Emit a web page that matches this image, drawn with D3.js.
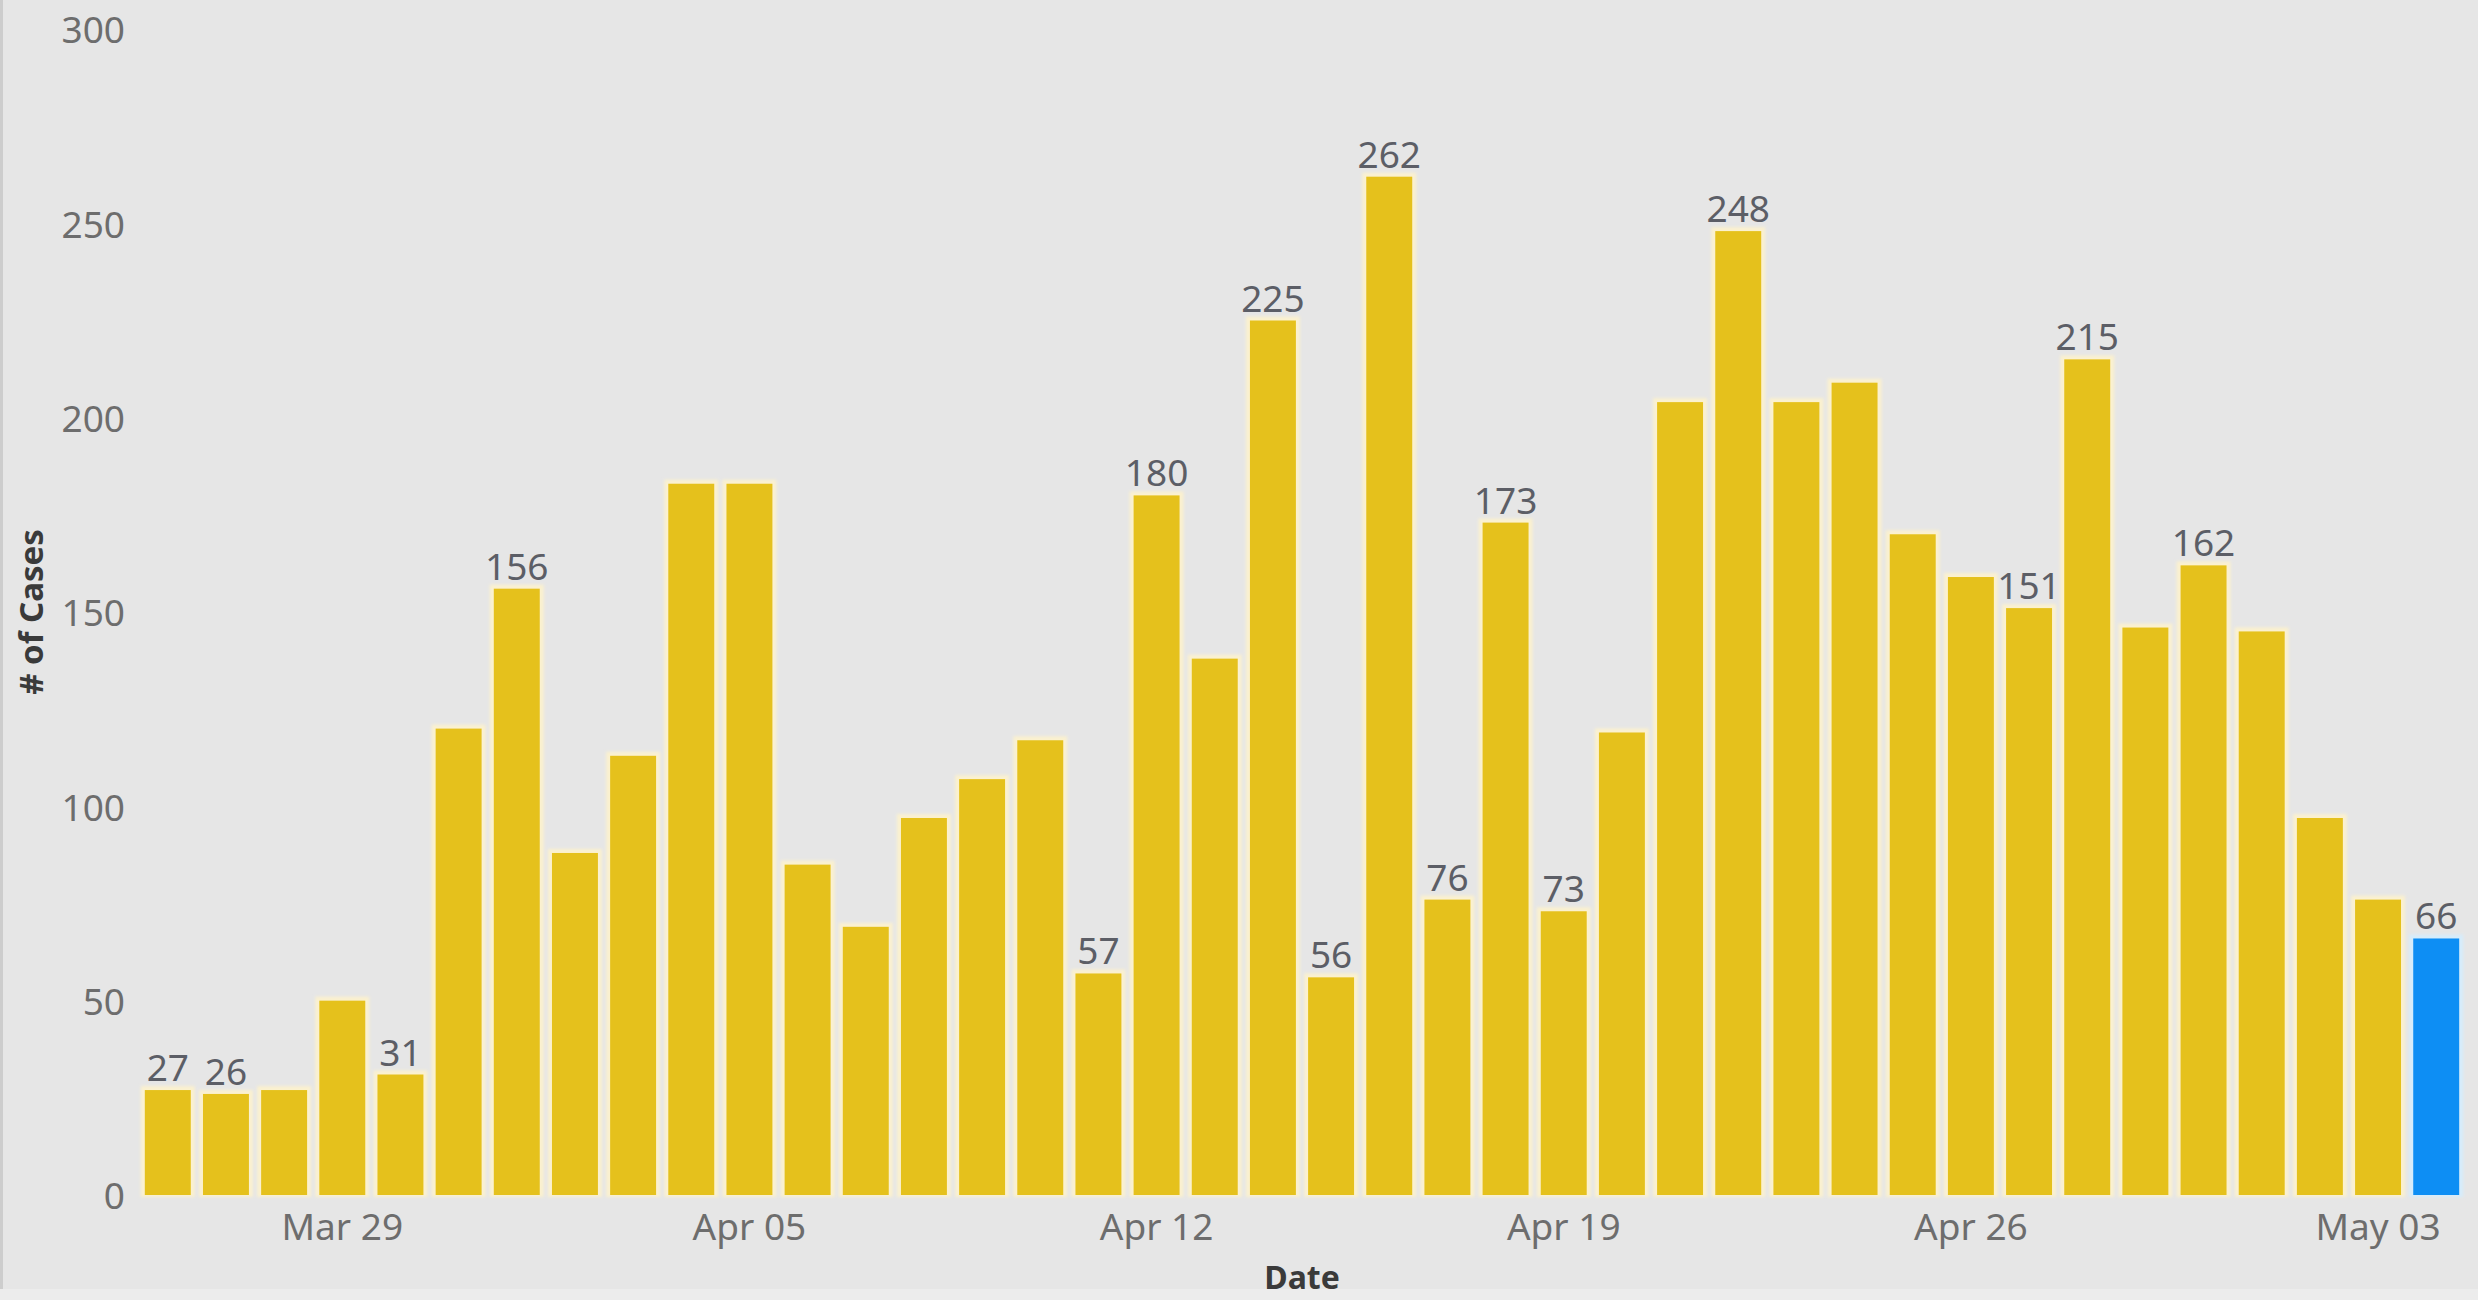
<!DOCTYPE html>
<html>
<head>
<meta charset="utf-8">
<script src="https://cdn.jsdelivr.net/npm/d3@7"></script>
<style>
  html, body { margin: 0; padding: 0; background: #e6e6e6; overflow: hidden; }
  svg { display: block; }
  text { font-family: "Noto Sans", "Open Sans", sans-serif; }
</style>
</head>
<body>
<svg id="chart" width="2478" height="1300"></svg>
<script>
// Daily new cases, Mar 26 – May 04
const dates = [
  "Mar 26","Mar 27","Mar 28","Mar 29","Mar 30","Mar 31","Apr 01","Apr 02","Apr 03","Apr 04",
  "Apr 05","Apr 06","Apr 07","Apr 08","Apr 09","Apr 10","Apr 11","Apr 12","Apr 13","Apr 14",
  "Apr 15","Apr 16","Apr 17","Apr 18","Apr 19","Apr 20","Apr 21","Apr 22","Apr 23","Apr 24",
  "Apr 25","Apr 26","Apr 27","Apr 28","Apr 29","Apr 30","May 01","May 02","May 03","May 04"
];
const cases = [
  27, 26, 27, 50, 31, 120, 156, 88, 113, 183,
  183, 85, 69, 97, 107, 117, 57, 180, 138, 225,
  56, 262, 76, 173, 73, 119, 204, 248, 204, 209,
  170, 159, 151, 215, 146, 162, 145, 97, 76, 66
];
// Dates whose value is printed above the bar
const labelledDates = [
  "Mar 26","Mar 27","Mar 30","Apr 01","Apr 11","Apr 12","Apr 14","Apr 15","Apr 16",
  "Apr 17","Apr 18","Apr 19","Apr 22","Apr 27","Apr 28","Apr 30","May 04"
];
// The latest day is highlighted
const highlightDate = "May 04";
const xTickLabels = ["Mar 29","Apr 05","Apr 12","Apr 19","Apr 26","May 03"];
const yTicks = [0, 50, 100, 150, 200, 250, 300];

const svg = d3.select("#chart");
const W = 2478, H = 1300;

svg.append("rect").attr("width", W).attr("height", H).attr("fill", "#e6e6e6");
svg.append("rect").attr("x", 0).attr("y", 0).attr("width", 3).attr("height", H).attr("fill", "#cdcdcd");
svg.append("rect").attr("x", 0).attr("y", 1289).attr("width", W).attr("height", 11).attr("fill", "#ececec");

const x = d3.scaleBand().domain(dates).range([139, 2465]).paddingInner(0.21).paddingOuter(0.1);
const y = d3.scaleLinear().domain([0, 300]).range([1195, 29]);

const defs = svg.append("defs");
defs.append("filter").attr("id", "soft").attr("x", "-20%").attr("y", "-20%").attr("width", "140%").attr("height", "140%")
  .append("feGaussianBlur").attr("stdDeviation", 1.6);

const data = dates.map((d, i) => ({ date: d, value: cases[i] }));

// pale glow around each bar
svg.append("g").selectAll("rect").data(data).join("rect")
  .attr("x", d => x(d.date) - 4)
  .attr("y", d => y(d.value) - 4)
  .attr("width", x.bandwidth() + 8)
  .attr("height", d => y(0) - y(d.value) + 6)
  .attr("fill", d => d.date === highlightDate ? "#d6ecfb" : "#fbf1cf")
  .attr("filter", "url(#soft)");

// bars
svg.append("g").selectAll("rect").data(data).join("rect")
  .attr("x", d => x(d.date))
  .attr("y", d => y(d.value))
  .attr("width", x.bandwidth())
  .attr("height", d => y(0) - y(d.value))
  .attr("fill", d => d.date === highlightDate ? "#0d8ef4" : "#e5c11c");

// value labels
svg.append("g").selectAll("text").data(data.filter(d => labelledDates.includes(d.date))).join("text")
  .attr("x", d => x(d.date) + x.bandwidth() / 2)
  .attr("y", d => y(d.value) - 9)
  .attr("text-anchor", "middle")
  .attr("font-size", 37)
  .attr("fill", "#5c5e66")
  .text(d => d.value);

// y axis
const yAxis = d3.axisLeft(y).tickValues(yTicks).tickSize(0).tickPadding(0);
const gy = svg.append("g").attr("transform", "translate(125,2)").call(yAxis);
gy.select(".domain").remove();
gy.selectAll("text").attr("font-size", 37).attr("fill", "#6d6d6d").attr("font-family", "Noto Sans, sans-serif");

// x axis
const xAxis = d3.axisBottom(x).tickValues(xTickLabels).tickSize(0).tickPadding(0);
const gx = svg.append("g").attr("transform", "translate(0,1215)").call(xAxis);
gx.select(".domain").remove();
gx.selectAll("text").attr("font-size", 37).attr("fill", "#6d6d6d").attr("font-family", "Noto Sans, sans-serif")
  .attr("dy", "0.71em").attr("y", -1);

// axis titles
svg.append("text")
  .attr("x", (x.range()[0] + x.range()[1]) / 2)
  .attr("y", 1289)
  .attr("text-anchor", "middle")
  .attr("font-size", 32)
  .attr("font-weight", "bold")
  .attr("fill", "#3a3a3a")
  .text("Date");

svg.append("text")
  .attr("transform", "translate(43,612) rotate(-90)")
  .attr("text-anchor", "middle")
  .attr("font-size", 33)
  .attr("font-weight", "bold")
  .attr("fill", "#3a3a3a")
  .text("# of Cases");
</script>
</body>
</html>
